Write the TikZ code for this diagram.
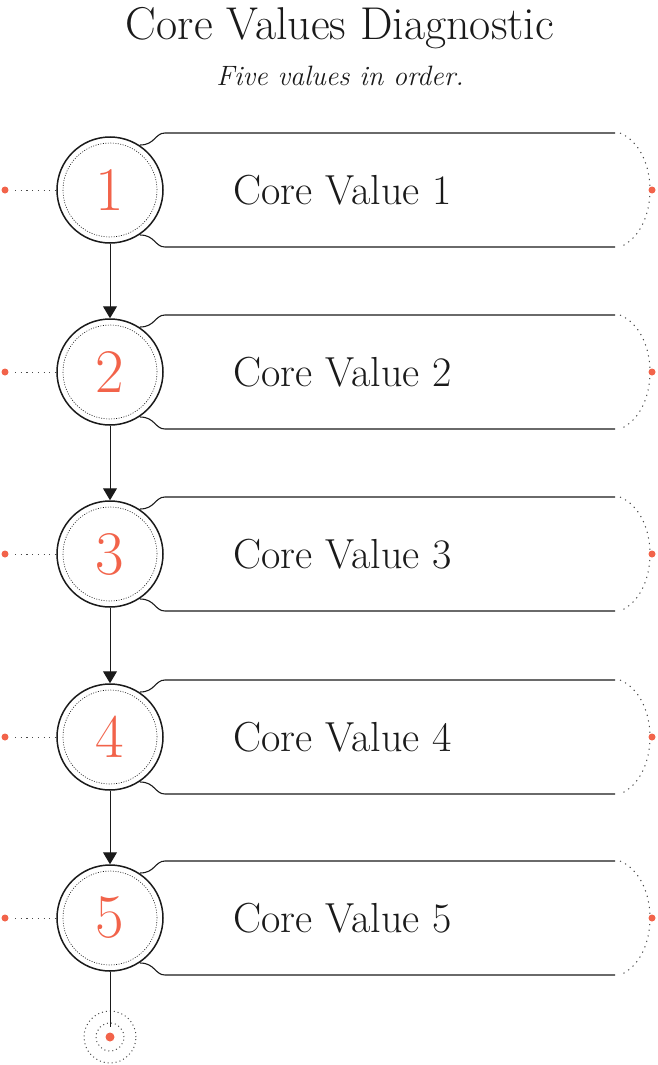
\documentclass[tikz,border=0pt]{standalone}
\usetikzlibrary{arrows.meta}
\definecolor{acc}{HTML}{F2634A}
\definecolor{ink}{HTML}{1A1A1A}
\begin{document}
\begin{tikzpicture}[x=1pt,y=-1pt,
  outer/.style={circle,draw=ink,line width=1.5pt,minimum size=106pt,inner sep=0pt},
  inner/.style={circle,draw=ink,dash pattern=on 1pt off 1.5pt,line width=0.6pt,minimum size=94pt,inner sep=0pt},
  panel/.style={draw=ink,line width=1.1pt},
  dots/.style={draw=ink!80,dash pattern=on 1.2pt off 4.5pt,line width=1pt},
  num/.style={text=acc,font=\fontsize{62}{62}\selectfont},
  lbl/.style={text=ink,font=\fontsize{42}{46}\selectfont,anchor=west},
  dot/.style={circle,fill=acc,inner sep=0pt,minimum size=7pt},
  arr/.style={draw=ink,line width=1pt,-{Triangle[length=12pt,width=14pt]}}]
\useasboundingbox (0,0) rectangle (658,1065);
\node[font=\fontsize{46}{50}\selectfont,text=ink] (title) at (340,28) {Core Values Diagnostic};
\node[font=\itshape\fontsize{28}{32}\selectfont,text=ink] (sub) at (340,76) {Five values in order.};
\foreach \i/\y in {1/190,2/372,3/554,4/737,5/918}{
  \draw[panel] (140,\y-45) .. controls (155,\y-45) and (155,\y-57) .. (165,\y-57) -- (615,\y-57);
  \draw[panel] (140,\y+45) .. controls (155,\y+45) and (155,\y+57) .. (165,\y+57) -- (615,\y+57);
  \node[outer,fill=white] (c\i) at (110,\y) {};
  \node[inner] (ci\i) at (110,\y) {};
  \node[num] (n\i) at (110,\y) {\i};
  \node[lbl] (l\i) at (230,\y) {Core Value \i};
  \node[dot] (ld\i) at (5,\y) {};
  \coordinate (lg\i) at (15,\y);
  \draw[dots] (lg\i) -- (c\i.west);
  \coordinate (at\i) at (620,\y-57);
  \coordinate (ab\i) at (620,\y+57);
  \draw[dots] (at\i) .. controls (660,\y-40) and (660,\y+40) .. (ab\i);
  \node[dot] (rd\i) at (652,\y) {};
}
\foreach \a/\b in {1/2,2/3,3/4,4/5}{\draw[arr] (c\a.south) -- (c\b.north);}
\node[circle,dots,dash pattern=on 1pt off 3pt,minimum size=52pt,inner sep=0pt] (e1) at (110,1037) {};
\node[circle,dots,dash pattern=on 1pt off 3pt,minimum size=28pt,inner sep=0pt] (e2) at (110,1037) {};
\node[dot,minimum size=9pt] (e3) at (110,1037) {};
\coordinate (e4) at (110,1027);
\draw[ink,line width=1pt] (c5.south) -- (e4);
\end{tikzpicture}
\end{document}
